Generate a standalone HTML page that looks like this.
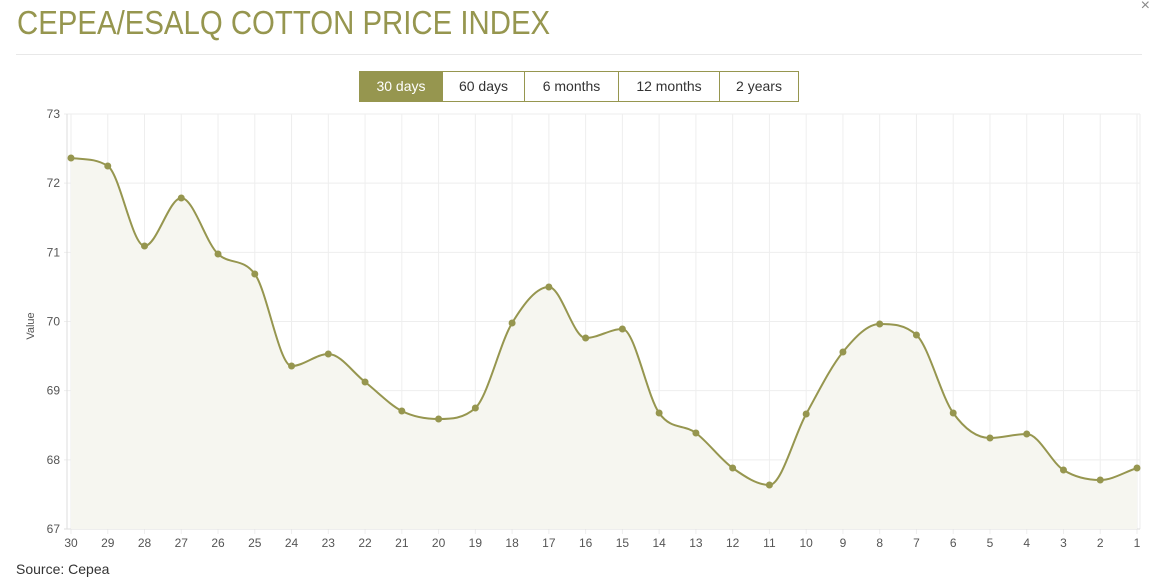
<!DOCTYPE html>
<html><head><meta charset="utf-8"><style>
body{margin:0;width:1152px;height:582px;background:#fff;font-family:"Liberation Sans",sans-serif;position:relative;overflow:hidden}
.title{position:absolute;left:17px;top:4px;font-size:33px;color:#96964f;white-space:nowrap;transform:scaleX(0.89);transform-origin:0 0}
.hr{position:absolute;left:16px;right:10px;top:54px;border-top:1px solid #e8e8e8}
.x{position:absolute;right:2px;top:-3px;font-size:16px;color:#888}
.btn{position:absolute;top:71px;height:29px;border:1px solid #96964f;box-sizing:content-box;font-size:14px;line-height:29px;text-align:center;color:#333;background:#fff;z-index:2}
.btn.a{background:#96964f;color:#fff}
.src{position:absolute;left:16px;top:561px;font-size:14px;color:#333}
svg{position:absolute;left:0;top:0;z-index:1}
</style></head><body>
<svg id="c" width="1152" height="582"></svg>
<div class="title">CEPEA/ESALQ COTTON PRICE INDEX</div>
<div class="x">×</div>
<div class="hr"></div>
<div class="btn a" style="left:359px;width:82px">30 days</div>
<div class="btn" style="left:442px;width:81px">60 days</div>
<div class="btn" style="left:524px;width:93px">6 months</div>
<div class="btn" style="left:618px;width:100px">12 months</div>
<div class="btn" style="left:719px;width:78px">2 years</div>
<div class="src">Source: Cepea</div>
<script>
(function(){
var ys=[158,166,246,198,254,274,366,354,382,411,419,408,323,287,338,329,413,433,468,485,414,352,324,335,413,438,434,470,480,468];
var x0=71,dx=(1137-71)/29,yt=114,yb=529;
var s='',i;
for(i=0;i<30;i++){var x=x0+i*dx;s+='<line x1="'+x+'" y1="'+yt+'" x2="'+x+'" y2="'+(yb+5)+'" stroke="#eeeeee"/>';
s+='<text x="'+x+'" y="547" font-size="12" fill="#555" text-anchor="middle">'+(30-i)+'</text>';}
s+='<line x1="1140" y1="'+yt+'" x2="1140" y2="'+yb+'" stroke="#eeeeee"/>';
for(var v=67;v<=73;v++){var y=yb-(v-67)*(yb-yt)/6;s+='<line x1="64" y1="'+y+'" x2="1140" y2="'+y+'" stroke="'+(v==67?'#ddd':'#eeeeee')+'"/>';
s+='<text x="60" y="'+(y+4)+'" font-size="12" fill="#555" text-anchor="end">'+v+'</text>';}
s+='<line x1="67" y1="'+yt+'" x2="67" y2="'+yb+'" stroke="#ddd"/>';
s+='<text transform="translate(34,326) rotate(-90)" font-size="11" fill="#555" text-anchor="middle">Value</text>';
var n=30,px=[],m=[],d=[];for(i=0;i<n;i++)px.push(x0+i*dx);
for(i=0;i<n-1;i++)d.push((ys[i+1]-ys[i])/dx);
m[0]=d[0];m[n-1]=d[n-2];
for(i=1;i<n-1;i++){m[i]=(d[i-1]*d[i]<=0)?0:(d[i-1]+d[i])/2;}
for(i=0;i<n-1;i++){if(d[i]==0){m[i]=m[i+1]=0;continue;}var a=m[i]/d[i],b=m[i+1]/d[i],h=a*a+b*b;if(h>9){var t=3/Math.sqrt(h);m[i]=t*a*d[i];m[i+1]=t*b*d[i];}}
var p='M'+px[0]+','+ys[0];
for(i=0;i<n-1;i++){var h3=dx/3;p+=' C'+(px[i]+h3)+','+(ys[i]+m[i]*h3)+' '+(px[i+1]-h3)+','+(ys[i+1]-m[i+1]*h3)+' '+px[i+1]+','+ys[i+1];}
s+='<path d="'+p+' L'+px[n-1]+','+yb+' L'+px[0]+','+yb+' Z" fill="#f6f6f0"/>';
s+='<path d="'+p+'" fill="none" stroke="#96964f" stroke-width="2"/>';
for(i=0;i<n;i++)s+='<circle cx="'+px[i]+'" cy="'+ys[i]+'" r="3.5" fill="#96964f"/>';
document.getElementById('c').innerHTML=s;
})();
</script>
</body></html>
